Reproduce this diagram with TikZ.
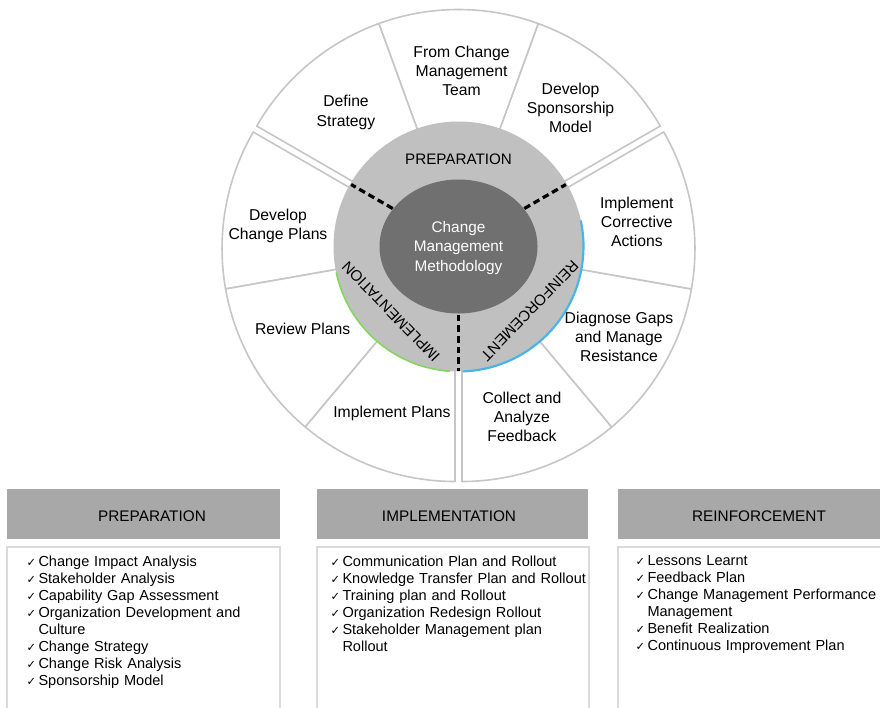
\documentclass[tikz,border=0pt]{standalone}
\usepackage{fontspec}
\setmainfont{Liberation Sans}
\newfontfamily\tickfont{DejaVu Sans}
\usetikzlibrary{positioning}

\definecolor{ringgray}{RGB}{192,192,192}
\definecolor{coregray}{RGB}{112,112,112}
\definecolor{headgray}{RGB}{168,168,168}
\definecolor{wedgeline}{RGB}{198,198,198}
\definecolor{boxline}{RGB}{218,218,218}
\definecolor{glowblue}{RGB}{70,180,230}
\definecolor{glowgreen}{RGB}{130,215,95}

\tikzset{every picture/.style={line width=0.75pt}}
\tikzset{
  wedge/.style={draw=wedgeline, fill=white, line width=1.2pt, line join=round},
  phasecut/.style={black, line width=2.4pt, dash pattern=on 5pt off 3pt},
  steplabel/.style={align=center, inner sep=0pt, font=\fontsize{11.8}{14.3}\selectfont},
  phaselabel/.style={inner sep=0pt, font=\fontsize{11.4}{13.7}\selectfont},
  corelabel/.style={align=center, inner sep=0pt, text=white, font=\fontsize{11.5}{14.6}\selectfont},
  listbox/.style={draw=boxline, fill=white, line width=1.2pt},
  headlabel/.style={inner sep=0pt, font=\fontsize{11.5}{13.8}\selectfont},
  listlabel/.style={anchor=north west, inner sep=0pt, text width=200pt, font=\fontsize{10.9}{12.75}\selectfont},
}

% one ticked line of a list, wrapped lines hang under the text
\newcommand{\tickitem}[1]{\noindent\hangindent=9pt\hangafter=1%
  \makebox[9pt][l]{\tickfont\fontsize{8.5}{8.5}\selectfont ✓}#1\par}

\begin{document}
\begin{tikzpicture}[x=0.75pt,y=0.75pt,yscale=-1,xscale=1]
\useasboundingbox (0,0) rectangle (880,707);
\clip (0,0) rectangle (880,707);

% wheel, drawn around its own centre with y pointing up
\begin{scope}[shift={(458.5,246.5)},yscale=-1]
  %Shape: Wedges, three groups of three pulled slightly apart
  \foreach \g in {90,210,330}{
    \begin{scope}[shift={(\g:4)}]
      \foreach \k in {-60,-20,20}{
        \pgfmathsetmacro{\s}{\g+\k}
        \pgfmathsetmacro{\e}{\g+\k+40}
        \draw[wedge] (\s:110) arc[start angle=\s,end angle=\e,radius=110] -- (\e:233) arc[start angle=\e,end angle=\s,radius=233] -- cycle;
      }
    \end{scope}
  }

  % Text Node: steps round the rim
  \foreach \a/\r/\txt in {89/175.5/{From Change\\Management\\Team}, 51/178/{Develop\\Sponsorship\\Model},
      130/175/{Define\\Strategy}, 173.5/181.7/{Develop\\Change Plans}, 208/176.5/{Review Plans},
      248.3/180/{Implement Plans}, 290.4/182/{Collect and\\Analyze\\Feedback},
      330.7/184/{Diagnose Gaps\\and Manage\\Resistance}, 7.8/180/{Implement\\Corrective\\Actions}}
    \node[steplabel] (step\a) at (\a:\r) {\txt};

  %Shape: Circle, phase ring
  \fill[ringgray] (0,0) circle[radius=125];
  \draw[glowgreen, line width=1.2pt] (192:125) arc[start angle=192,end angle=266,radius=125];
  \draw[glowblue, line width=1.6pt] (-88:125) arc[start angle=-88,end angle=12,radius=125];

  %Shape: Ellipse, core
  \fill[coregray] (0,0) ellipse[x radius=79,y radius=67];

  %Straight Lines: phase borders
  \draw[phasecut] (150:76) -- (150:124);
  \draw[phasecut] (30:76) -- (30:124);
  \draw[phasecut] (270:68) -- (270:124);

  % Text Node
  \node[corelabel] (core) at (0,-1.5) {Change\\Management\\Methodology};
  \node[phaselabel] (prep) at (90:87) {PREPARATION};
  \node[phaselabel, rotate=134] (impl) at (224:94) {IMPLEMENTATION};
  \node[phaselabel, rotate=-134] (reinf) at (-42:96) {REINFORCEMENT};
\end{scope}

%Shape: Rectangle, header bars
\fill[headgray] (7,489) rectangle (280,539);
\fill[headgray] (317,489) rectangle (588,539);
\fill[headgray] (618,489) rectangle (892,539);

%Shape: Rectangle, list boxes
\draw[listbox] (7,547) rectangle (280,715);
\draw[listbox] (317,547) rectangle (589,715);
\draw[listbox] (618,547) rectangle (892,715);

% Text Node
\node[headlabel] (prephead) at (152,516.5) {PREPARATION};
\node[headlabel] (implhead) at (449,516.5) {IMPLEMENTATION};
\node[headlabel] (reinfhead) at (759,516.5) {REINFORCEMENT};

% Text Node
\node[listlabel] (preplist) at (26,555) {%
  \tickitem{Change Impact Analysis}
  \tickitem{Stakeholder Analysis}
  \tickitem{Capability Gap Assessment}
  \tickitem{Organization Development and\newline Culture}
  \tickitem{Change Strategy}
  \tickitem{Change Risk Analysis}
  \tickitem{Sponsorship Model}};
\node[listlabel] (impllist) at (330,555) {%
  \tickitem{Communication Plan and Rollout}
  \tickitem{Knowledge Transfer Plan and Rollout}
  \tickitem{Training plan and Rollout}
  \tickitem{Organization Redesign Rollout}
  \tickitem{Stakeholder Management plan\newline Rollout}};
\node[listlabel] (reinflist) at (635,555) {%
  \tickitem{Lessons Learnt}
  \tickitem{Feedback Plan}
  \tickitem{Change Management Performance\newline Management}
  \tickitem{Benefit Realization}
  \tickitem{Continuous Improvement Plan}};

\end{tikzpicture}
\end{document}
